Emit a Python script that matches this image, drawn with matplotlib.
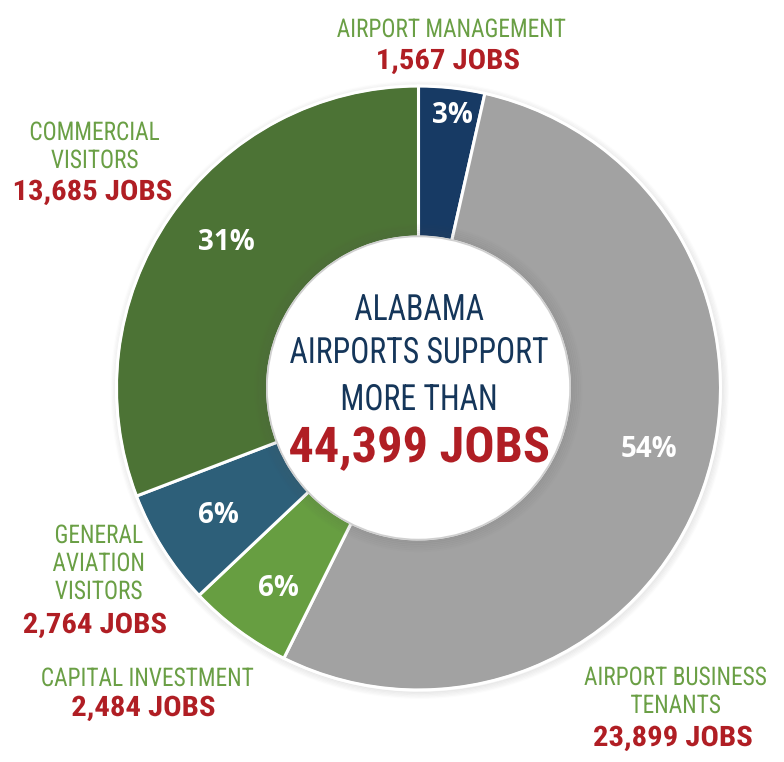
import matplotlib
matplotlib.use("Agg")
import matplotlib.pyplot as plt
from matplotlib import font_manager as fm
from matplotlib.patches import Circle
from matplotlib.patheffects import AbstractPathEffect
from matplotlib.transforms import Affine2D
import numpy as np

# ---------------- data ----------------
categories = ["AIRPORT MANAGEMENT", "AIRPORT BUSINESS\nTENANTS", "CAPITAL INVESTMENT",
              "GENERAL\nAVIATION\nVISITORS", "COMMERCIAL\nVISITORS"]
jobs = [1567, 23899, 2484, 2764, 13685]
pct_labels = ["3%", "54%", "6%", "6%", "31%"]
center_lines = ["ALABAMA", "AIRPORTS SUPPORT", "MORE THAN"]

# ---------------- styles ----------------
colors = ["#173a64", "#a2a2a2", "#679e41", "#2d5f79", "#4c7335"]
green_txt = "#6a9f45"
red_txt = "#b01e24"
navy_txt = "#15365a"

pct_r = [0.91, 0.79, 0.81, 0.785, 0.797]
pct_da = [-0.8, 4.6, 1.6, 0.5, -2.6]

# label layout (pixels): centre x, baseline of first name line, baseline of the jobs line
name_x = [452, 676, 148, 99, 95]
name_base = [37, 685, 686, 543, 140]
jobs_x = [448, 673, 143.5, 95, 92.5]
jobs_base = [69, 746, 716, 633, 200]
line_pitch = 28
center_x = 419
center_base = [320, 363, 410]
big_base = 462


def pick_fonts():
    names = {f.name for f in fm.fontManager.ttflist}
    if "Roboto Condensed" in names:
        return (fm.FontProperties(family="Roboto Condensed"),
                fm.FontProperties(family="Roboto Condensed", weight="bold"))
    for f in fm.fontManager.ttflist:
        if str(f.stretch) == "condensed" and "CJK" not in f.name:
            return (fm.FontProperties(family=f.name, stretch="condensed"),
                    fm.FontProperties(family=f.name, stretch="condensed", weight="bold"))
    return fm.FontProperties(family="Roboto"), fm.FontProperties(family="Roboto", weight="bold")


class HScale(AbstractPathEffect):
    """Horizontally rescale each drawn line about its own centre."""
    def __init__(self, sx):
        super().__init__()
        self.sx = sx

    def draw_path(self, renderer, gc, tpath, affine, rgbFace=None):
        ext = tpath.get_extents()
        c = 0.5 * (ext.x0 + ext.x1)
        t = Affine2D().translate(-c, 0).scale(self.sx, 1.0).translate(c, 0) + affine
        renderer.draw_path(gc, tpath, t, rgbFace)


fp_reg, fp_bold = pick_fonts()
# (fontsize, horizontal scale)
st_green, st_red, st_navy, st_big = (18.5, 0.91), (20.3, 1.09), (26, 0.88), (35.5, 1.02)

W, H = 784, 762
cx, cy, R = 418.5, 388.0, 302.0


def px(x, y):
    return ((x - cx) / R, (cy - y) / R)


def ctext(ax, xpix, ypix, s, fp, style, color):
    size, sx = style
    p = fp.copy()
    p.set_size(size)
    x, y = px(xpix, ypix)
    t = ax.text(x, y, s, ha="center", va="baseline", color=color, fontproperties=p, zorder=6)
    if sx != 1.0:
        t.set_path_effects([HScale(sx)])
    return t


fig = plt.figure(figsize=(W / 100, H / 100), dpi=100)
ax = fig.add_axes([0, 0, 1, 1])

# soft outer shadow
for k in range(6):
    ax.add_patch(Circle((0.004, -0.006), 1.0 + 0.004 * k, facecolor="none",
                        edgecolor="#808080", alpha=0.10 - 0.015 * k, lw=1.5, zorder=0))

wedges, _ = ax.pie(jobs, colors=colors, startangle=90, counterclock=False, radius=1.0,
                   wedgeprops=dict(width=0.5, edgecolor="white", linewidth=2.2))
for w in wedges:
    w.set_zorder(1)
ax.add_patch(Circle((0, 0), 1.0, facecolor="none", edgecolor="white", lw=1.6, zorder=2))

# inner shadow + white hole
for k in range(7):
    ax.add_patch(Circle((0, 0), 0.503 + 0.006 * k, facecolor="none",
                        edgecolor="#505050", alpha=0.09 - 0.012 * k, lw=2.0, zorder=3))
ax.add_patch(Circle((0, 0), 0.502, facecolor="white", edgecolor="#cfcfcf", lw=1.2, zorder=4))
ax.add_patch(Circle((0, 0), 0.495, facecolor="white", edgecolor="none", zorder=4))

# percentages
for w, lab, r, da in zip(wedges, pct_labels, pct_r, pct_da):
    ang = np.deg2rad((w.theta1 + w.theta2) / 2 + da)
    ax.text(r * np.cos(ang), r * np.sin(ang), lab, ha="center", va="center",
            color="white", fontsize=20, fontweight="bold", family="Open Sans", zorder=6)

# category labels
for cat, v, nx, nb, jx, jb in zip(categories, jobs, name_x, name_base, jobs_x, jobs_base):
    for i, line in enumerate(cat.split("\n")):
        ctext(ax, nx, nb + i * line_pitch, line, fp_reg, st_green, green_txt)
    ctext(ax, jx, jb, f"{v:,} JOBS", fp_bold, st_red, red_txt)

# centre text
for line, yb in zip(center_lines, center_base):
    ctext(ax, center_x, yb, line, fp_reg, st_navy, navy_txt)
ctext(ax, center_x, big_base, f"{sum(jobs):,} JOBS", fp_bold, st_big, red_txt)

ax.set_aspect("auto")
ax.set_xlim(-cx / R, (W - cx) / R)
ax.set_ylim(-(H - cy) / R, cy / R)
ax.axis("off")

fig.savefig("out.png", dpi=100, facecolor="white")
